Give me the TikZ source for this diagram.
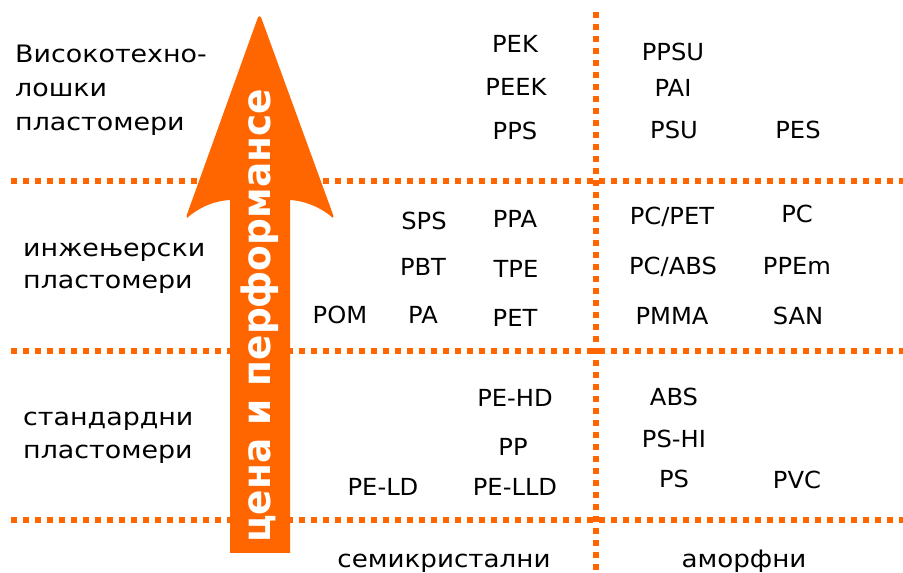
\documentclass[tikz,border=0pt]{standalone}
\usepackage{fontspec}
\setmainfont{DejaVu Sans}
\newfontfamily\latf[FakeStretch=1.03]{DejaVu Sans}
\newfontfamily\cyrf[FakeStretch=1.12]{DejaVu Sans}
\newfontfamily\cyrb[FakeStretch=1.09]{DejaVu Sans}
\newfontfamily\arrf[FakeStretch=0.96]{DejaVu Sans}
\definecolor{orng}{HTML}{FF6600}
\begin{document}
\begin{tikzpicture}[x=1pt,y=1pt,
  lbl/.style={inner sep=0pt,anchor=base,font=\latf\fontsize{23.5}{23.5}\selectfont},
  axl/.style={inner sep=0pt,anchor=base,font=\cyrb\fontsize{24}{24}\selectfont},
  side/.style={inner sep=0pt,anchor=base west,font=\cyrf\fontsize{24}{24}\selectfont},
  dotline/.style={orng,line width=6pt,dash pattern=on 6pt off 6pt}]
\useasboundingbox (0,0) rectangle (903,573);
% grid
\coordinate (h1a) at (11,392); \coordinate (h1b) at (903,392);
\coordinate (h2a) at (11,222); \coordinate (h2b) at (903,222);
\coordinate (h3a) at (11,53);  \coordinate (h3b) at (903,53);
\coordinate (va) at (596,561); \coordinate (vb) at (596,0);
\draw[dotline] (h1a) -- (h1b);
\draw[dotline] (h2a) -- (h2b);
\draw[dotline] (h3a) -- (h3b);
\draw[dotline] (va) -- (vb);
% arrow
\fill[orng] (230,20) -- (230,373)
  .. controls (212,372) and (197,364) .. (187,355)
  [rounded corners=6pt] -- (185,353) -- (259.5,560) -- (335,353) [sharp corners] -- (333,355)
  .. controls (323,364) and (307,372) .. (290,373) -- (290,20) -- cycle;
\node[rotate=90,text=white,inner sep=0pt,font=\arrf\fontsize{39}{39}\selectfont\bfseries] (arr) at (260,257) {цена и перформансе};
% left labels
\node[side] (l1) at (15,510) {Високотехно-};
\node[side] (l2) at (15,476) {лошки};
\node[side] (l3) at (15,442) {пластомери};
\node[side] (l4) at (23,316) {инжењерски};
\node[side] (l5) at (23,284) {пластомери};
\node[side] (l6) at (23,147) {стандардни};
\node[side] (l7) at (23,114) {пластомери};
% top section
\node[lbl] (pek) at (515,520) {PEK};
\node[lbl] (peek) at (516,477) {PEEK};
\node[lbl] (pps) at (515,433) {PPS};
\node[lbl] (ppsu) at (673,512) {PPSU};
\node[lbl] (pai) at (673,476) {PAI};
\node[lbl] (psu) at (674,434) {PSU};
\node[lbl] (pes) at (798,434) {PES};
% middle section
\node[lbl] (sps) at (424,343) {SPS};
\node[lbl] (ppa) at (515,345) {PPA};
\node[lbl] (pbt) at (423,297) {PBT};
\node[lbl] (tpe) at (516,295) {TPE};
\node[lbl] (pom) at (340,249) {POM};
\node[lbl] (pa) at (423,249) {PA};
\node[lbl] (pet) at (515,246) {PET};
\node[lbl] (pcpet) at (672,348) {PC/PET};
\node[lbl] (pc) at (797,350) {PC};
\node[lbl] (pcabs) at (673,298) {PC/ABS};
\node[lbl] (ppem) at (797,298) {PPEm};
\node[lbl] (pmma) at (672,248) {PMMA};
\node[lbl] (san) at (798,248) {SAN};
% bottom section
\node[lbl] (pehd) at (515,166) {PE-HD};
\node[lbl] (pp) at (513,117) {PP};
\node[lbl] (peld) at (383,77) {PE-LD};
\node[lbl] (pelld) at (515,77) {PE-LLD};
\node[lbl] (abs) at (674,167) {ABS};
\node[lbl] (pshi) at (674,125) {PS-HI};
\node[lbl] (ps) at (674,85) {PS};
\node[lbl] (pvc) at (797,84) {PVC};
% axis labels
\node[axl] (semi) at (444,5) {семикристални};
\node[axl] (amorf) at (744,5) {аморфни};
\end{tikzpicture}
\end{document}
